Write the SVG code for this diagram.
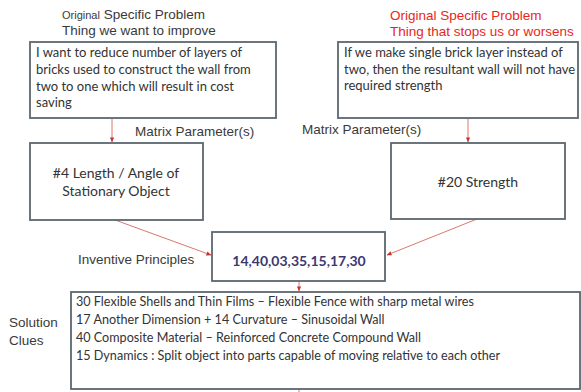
<svg xmlns="http://www.w3.org/2000/svg" width="581" height="392" viewBox="0 0 581 392">
<defs>
<marker id="ah" viewBox="0 0 6 6" refX="5.5" refY="3" markerWidth="5" markerHeight="5" orient="auto" markerUnits="userSpaceOnUse">
<path d="M0,0.5 L6,3 L0,5.5 Z" fill="#c9302c"/>
</marker>
<style>
.box{fill:#fff;stroke:#5b6770;stroke-width:1.8}
.lbl{font-family:"Liberation Sans",Arial,sans-serif;font-size:13.5px;fill:#3a3a3a}
.red{font-family:"Liberation Sans",Arial,sans-serif;font-size:13.5px;fill:#e8261c}
.body{font-family:Lato,"Open Sans",sans-serif;font-size:13px;fill:#333}
.clue{font-family:Lato,"Open Sans",sans-serif;font-size:12.6px;fill:#333}
.mid{font-family:Lato,"Open Sans",sans-serif;font-size:14px;fill:#333;text-anchor:middle}
.num{font-family:Lato,"Open Sans",sans-serif;font-size:14px;font-weight:bold;fill:#3b3972;text-anchor:middle}
.con{stroke:#d9786e;stroke-width:1;fill:none;marker-end:url(#ah)}
</style>
</defs>
<rect width="581" height="392" fill="#fff"/>
<g id="labels">
<text class="lbl" x="62" y="19"><tspan font-size="11px">Original</tspan> Specific Problem</text>
<text class="lbl" x="62" y="35" font-size="14.8px">Thing we want to improve</text>
<text class="red" x="390" y="20">Original Specific Problem</text>
<text class="red" x="390" y="36" font-size="14.5px">Thing that stops us or worsens</text>
<text class="lbl" x="135" y="136" font-size="13px">Matrix Parameter(s)</text>
<text class="lbl" x="302" y="134" font-size="13px">Matrix Parameter(s)</text>
<text class="lbl" x="78" y="264" font-size="13px">Inventive Principles</text>
<text class="lbl" x="9" y="327" font-size="13px">Solution</text>
<text class="lbl" x="9" y="345" font-size="13px">Clues</text>
</g>
<g id="connectors">
<line class="con" x1="112" y1="119" x2="112" y2="142"/>
<line class="con" x1="468" y1="119" x2="468" y2="142"/>
<line class="con" x1="115" y1="220" x2="211" y2="255"/>
<line class="con" x1="477" y1="219" x2="387" y2="255"/>
<line class="con" x1="299" y1="281" x2="299" y2="291"/>
<line stroke="#d9786e" stroke-width="1" x1="299" y1="389" x2="299" y2="392"/>
</g>
<g id="problem1">
<rect class="box" x="30" y="42" width="246" height="76"/>
<text class="body" x="36" y="57">I want to reduce number of layers of</text>
<text class="body" x="36" y="74">bricks used to construct the wall from</text>
<text class="body" x="36" y="91">two to one  which will result in cost</text>
<text class="body" x="36" y="107">saving</text>
</g>
<g id="problem2">
<rect class="box" x="338" y="42" width="240" height="76"/>
<text class="body" x="344" y="57" font-size="12.8px">If we make single brick layer instead of</text>
<text class="body" x="344" y="74" font-size="12.8px">two, then the resultant wall will not have</text>
<text class="body" x="344" y="90" font-size="12.8px">required strength</text>
</g>
<g id="param1">
<rect class="box" x="30" y="143" width="173" height="77"/>
<text class="mid" x="116" y="178">#4 Length / Angle of</text>
<text class="mid" x="116" y="196">Stationary Object</text>
</g>
<g id="param2">
<rect class="box" x="391" y="143" width="174" height="76"/>
<text class="mid" x="478" y="187">#20 Strength</text>
</g>
<g id="principles">
<rect class="box" x="212" y="232" width="173" height="49"/>
<text class="num" x="299" y="266">14,40,03,35,15,17,30</text>
</g>
<g id="clues">
<rect class="box" x="71" y="292" width="509" height="97"/>
<text class="clue" x="76" y="306">30 Flexible Shells and Thin Films – Flexible Fence with sharp metal wires</text>
<text class="clue" x="76" y="324">17 Another Dimension + 14 Curvature – Sinusoidal Wall</text>
<text class="clue" x="76" y="342">40 Composite Material – Reinforced Concrete Compound Wall</text>
<text class="clue" x="76" y="360">15 Dynamics : Split object into parts capable of moving relative to each other</text>
</g>
</svg>
